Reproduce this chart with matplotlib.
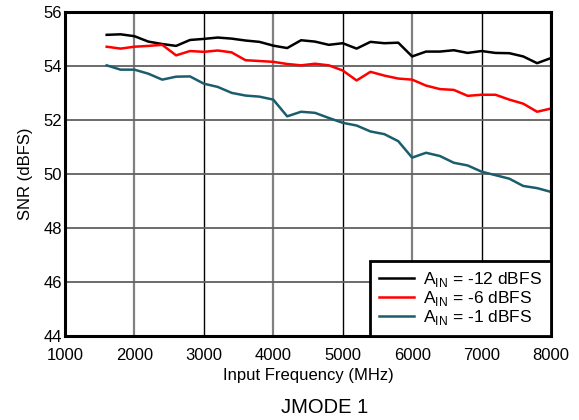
import numpy as np
import matplotlib
import matplotlib.pyplot as plt

matplotlib.use('Agg')
plt.rcParams['font.family'] = ['Liberation Sans', 'DejaVu Sans']

freq = list(range(1600, 8001, 200))
snr_m12 = [55.16, 55.18, 55.11, 54.91, 54.82, 54.75, 54.97, 55.01, 55.06, 55.02,
           54.95, 54.90, 54.76, 54.67, 54.96, 54.91, 54.79, 54.85, 54.65, 54.90,
           54.85, 54.87, 54.36, 54.54, 54.54, 54.59, 54.49, 54.56, 54.49, 54.48,
           54.36, 54.11, 54.30]
snr_m6 = [54.72, 54.65, 54.72, 54.75, 54.79, 54.40, 54.56, 54.53, 54.58, 54.51,
          54.22, 54.19, 54.16, 54.08, 54.03, 54.09, 54.03, 53.84, 53.47, 53.79,
          53.65, 53.54, 53.50, 53.28, 53.15, 53.12, 52.90, 52.94, 52.94, 52.76,
          52.61, 52.31, 52.43]
snr_m1 = [54.03, 53.87, 53.87, 53.72, 53.50, 53.61, 53.62, 53.35, 53.23, 53.01,
          52.91, 52.87, 52.76, 52.14, 52.31, 52.27, 52.08, 51.90, 51.80, 51.58,
          51.48, 51.22, 50.61, 50.79, 50.67, 50.42, 50.32, 50.09, 49.96, 49.83,
          49.56, 49.48, 49.34]
labels = ['A$_{\\mathregular{IN}}$ = -12 dBFS',
          'A$_{\\mathregular{IN}}$ = -6 dBFS',
          'A$_{\\mathregular{IN}}$ = -1 dBFS']
colors = ['black', '#ff0000', '#1b5d6d']

fig = plt.figure(figsize=(5.79, 4.2), dpi=100)
ax = fig.add_axes([0.1123, 0.2, 0.8393, 0.771])

for ys, lab, c in zip([snr_m12, snr_m6, snr_m1], labels, colors):
    ax.plot(freq, ys, color=c, lw=1.8, label=lab)

ax.set_xlim(1000, 8000)
ax.set_ylim(44, 56)
ax.set_xticks(np.arange(1000, 8001, 1000))
ax.set_yticks(np.arange(44, 57, 2))
ax.tick_params(length=0, labelsize=12)
ax.tick_params(axis='x', pad=9)
ax.tick_params(axis='y', pad=2)

ax.grid(True, axis='y', color='#606060', lw=1.3)
ax.grid(True, axis='x', lw=1.3)
for i, gl in enumerate(ax.xaxis.get_gridlines()):
    if i % 2 == 1:
        gl.set_color('#808080')
        gl.set_linewidth(1.6)
    else:
        gl.set_color('black')
        gl.set_linewidth(1.0)
ax.set_axisbelow(True)

for s in ax.spines.values():
    s.set_linewidth(2.2)
    s.set_color('black')

ax.set_xlabel('Input Frequency (MHz)', fontsize=12, labelpad=3)
ax.set_ylabel('SNR (dBFS)', fontsize=12, labelpad=8)

leg = ax.legend(loc='lower right', borderaxespad=0, fancybox=False,
                framealpha=1, edgecolor='black', fontsize=12.5,
                handlelength=2.0, handletextpad=0.55, labelspacing=0.02,
                borderpad=0.5)
leg.get_frame().set_linewidth(2.0)

fig.text(0.561, 0.03, 'JMODE 1', ha='center', va='center', fontsize=14.5)

fig.savefig('out.png', dpi=100)
